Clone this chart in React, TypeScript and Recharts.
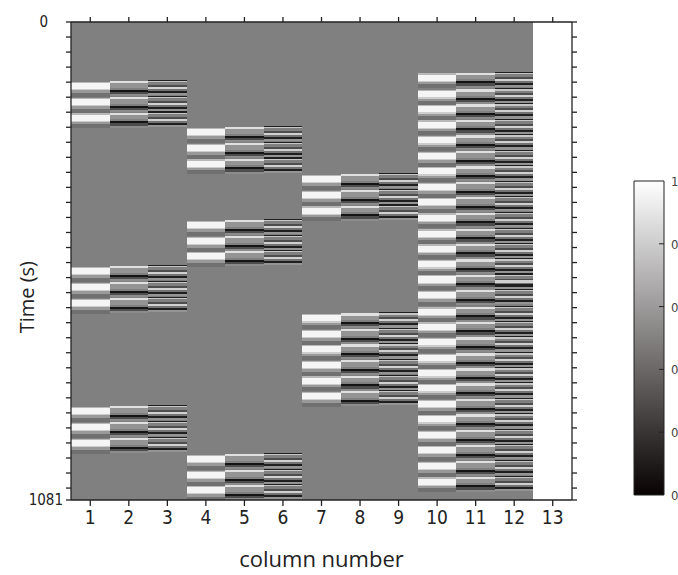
import React from 'react';
import { ComposedChart, BarChart, Bar, Scatter, XAxis, YAxis, ReferenceArea } from 'recharts';

const TOTAL_TIME = 1081;

const columnTicks = [1, 2, 3, 4, 5, 6, 7, 8, 9, 10, 11, 12, 13];
const timeTicks = [
  0, 34, 68, 102, 136, 170, 204, 238, 272, 306, 340, 374, 408, 442, 476, 510, 544,
  578, 612, 646, 680, 714, 748, 782, 816, 850, 884, 918, 952, 986, 1020, 1054, 1081,
];
const timeLabels = [0, 1081];
const colorbarTicks = [0, 0.2, 0.4, 0.6, 0.8, 1];
// the figure is cropped on the right, only the first glyph of each label shows
const colorbarLabels = ['0', '0', '0', '0', '0', '1'];

// peak (white band centre) times in seconds, one list per condition
const cond1Peaks = [144.7, 180.9, 216.4, 563.1, 599.3, 635.5, 879.7, 915.9, 952.1];
const cond2Peaks = [248.8, 284.9, 320.4, 459.1, 495.3, 529.2, 988.3, 1024.5, 1058.4];
const cond3Peaks = [355.1, 391.2, 426.7, 670.1, 705.6, 740.2, 775.7, 811.2, 845.8];
const cond4Peaks = [
  126.0, 163.5, 197.4, 232.3, 267.5, 303.0, 337.6, 373.1, 407.1, 442.6, 478.8, 512.7,
  548.0, 582.3, 617.4, 655.2, 689.1, 724.4, 760.5, 794.5, 828.4, 863.9, 898.5, 934.0,
  967.9, 1004.1, 1039.6,
];

// [from, to, level] offsets (s) around each peak, level 0 = black, 1 = white
const hrfProfile = [[-10, -7, 0.72], [-7, 7, 0.96], [7, 10, 0.8], [10, 15, 0.6], [15, 24, 0.44]];
const derivProfile = [[-11, -6, 0.88], [-6, 4, 0.58], [4, 8, 0.5], [8, 13, 0.08], [13, 18, 0.3], [18, 23, 0.55]];
const dispProfile = [
  [-14, -11, 0.12], [-11, -8, 0.78], [-8, -2, 0.5], [-2, 2, 0.3], [2, 7, 0.82],
  [7, 11, 0.45], [11, 16, 0.12], [16, 21, 0.58],
];
const baseLevel = 0.5;
const constantLevel = 1;

const gray = (l: number) => {
  const v = Math.round(l * 255);
  return `rgb(${v},${v},${v})`;
};

type Cell = { col: number; y1: number; y2: number; level: number };

const conditions = [cond1Peaks, cond2Peaks, cond3Peaks, cond4Peaks];
const profiles = [hrfProfile, derivProfile, dispProfile];

const cells: Cell[] = [];
conditions.forEach((peaks, ci) => {
  profiles.forEach((prof, pi) => {
    const col = ci * 3 + pi + 1;
    peaks.forEach((p) => {
      prof.forEach(([a, b, l]) => {
        const y1 = Math.max(0, p + a);
        const y2 = Math.min(TOTAL_TIME, p + b);
        if (y2 > y1) cells.push({ col, y1, y2, level: l });
      });
    });
  });
});

// anchor points so both axis pairs get a domain
const anchorPoints = columnTicks.map((c) => ({ col: c, t: 0 }));

const axisColor = '#222';
const tickFont = "'Liberation Sans Narrow', 'DejaVu Sans Condensed', sans-serif";
const labelFont = "'Open Sans', sans-serif";

const crispRect = (p: any) => (
  <rect x={p.x} y={p.y} width={p.width} height={p.height} fill={p.fill} shapeRendering="crispEdges" />
);
const noShape = () => <g />;

const TimeTick = (props: any) => {
  const { x, y, payload } = props;
  const v = payload.value;
  if (!timeLabels.includes(v)) return <g />;
  return (
    <text x={v === 0 ? x - 15 : x} y={y} dy={5} textAnchor="end" fontSize={15} fontFamily={tickFont} fill="#222">
      {String(v)}
    </text>
  );
};

const ColorbarTick = (props: any) => {
  const { x, y, payload, index } = props;
  const v = payload.value;
  const inner = v > 0 && v < 1;
  return (
    <g>
      {inner && <line x1={x - 5} x2={x} y1={y} y2={y} stroke={axisColor} strokeWidth={1} />}
      <text x={x + 7} y={y} dy={5} fontSize={13} fontFamily={tickFont} fill="#444">
        {colorbarLabels[index]}
      </text>
    </g>
  );
};

export default function App() {
  return (
    <div style={{ position: 'absolute', left: 0, top: 0, width: 678, height: 575, overflow: 'hidden', background: '#fff' }}>
      <ComposedChart
        width={678}
        height={575}
        data={anchorPoints}
        margin={{ top: 12, right: 96, bottom: 35, left: 31 }}
        style={{ position: 'absolute', left: 0, top: 0 }}
      >
        <XAxis
          xAxisId="bottom"
          dataKey="col"
          type="number"
          domain={[0.5, 13.5]}
          allowDataOverflow
          ticks={columnTicks}
          interval={0}
          height={40}
          stroke={axisColor}
          strokeWidth={1.3}
          tickSize={6}
          tickMargin={5}
          tick={{ fontSize: 19, fontFamily: tickFont, fill: '#222' }}
          label={{ value: 'column number', position: 'bottom', offset: 11, fontSize: 22, fontFamily: labelFont, fill: '#222' }}
        />
        <XAxis
          xAxisId="top"
          dataKey="col"
          orientation="top"
          type="number"
          domain={[0.5, 13.5]}
          allowDataOverflow
          ticks={columnTicks}
          interval={0}
          height={10}
          stroke={axisColor}
          strokeWidth={1.3}
          tickSize={5}
          tickFormatter={() => ''}
        />
        <YAxis
          yAxisId="left"
          dataKey="t"
          type="number"
          domain={[0, TOTAL_TIME]}
          allowDataOverflow
          reversed
          ticks={timeTicks}
          interval={0}
          width={40}
          stroke={axisColor}
          strokeWidth={1.3}
          tickSize={5}
          tickMargin={3}
          tick={<TimeTick />}
          label={{ value: 'Time (s)', angle: -90, position: 'left', offset: 4, fontSize: 20, fontFamily: labelFont, fill: '#222' }}
        />
        <YAxis
          yAxisId="right"
          dataKey="t"
          orientation="right"
          type="number"
          domain={[0, TOTAL_TIME]}
          allowDataOverflow
          reversed
          ticks={timeTicks}
          interval={0}
          width={10}
          stroke={axisColor}
          strokeWidth={1.3}
          tickSize={5}
          tickFormatter={() => ''}
        />
        <Scatter xAxisId="bottom" yAxisId="left" dataKey="t" shape={noShape} isAnimationActive={false} />
        <Scatter xAxisId="top" yAxisId="right" dataKey="t" shape={noShape} isAnimationActive={false} />
        <ReferenceArea
          xAxisId="bottom"
          yAxisId="left"
          x1={0.5}
          x2={12.5}
          y1={0}
          y2={TOTAL_TIME}
          fill={gray(baseLevel)}
          fillOpacity={1}
          shape={crispRect}
        />
        <ReferenceArea
          xAxisId="bottom"
          yAxisId="left"
          x1={12.5}
          x2={13.5}
          y1={0}
          y2={TOTAL_TIME}
          fill={gray(constantLevel)}
          fillOpacity={1}
          shape={crispRect}
        />
        {cells.map((c, i) => (
          <ReferenceArea
            key={i}
            xAxisId="bottom"
            yAxisId="left"
            x1={c.col - 0.5}
            x2={c.col + 0.5}
            y1={c.y1}
            y2={c.y2}
            fill={gray(c.level)}
            fillOpacity={1}
            shape={crispRect}
          />
        ))}
      </ComposedChart>

      <BarChart
        width={78}
        height={360}
        data={[{ name: 'scale', v: 1 }]}
        margin={{ top: 21, right: 0, bottom: 25, left: 34 }}
        barCategoryGap={0}
        style={{ position: 'absolute', left: 600, top: 160 }}
      >
        <defs>
          <linearGradient id="grayRamp" x1="0" y1="0" x2="0" y2="1">
            <stop offset="0%" stopColor="#ffffff" />
            <stop offset="100%" stopColor="#080202" />
          </linearGradient>
        </defs>
        <XAxis dataKey="name" hide />
        <YAxis
          orientation="right"
          type="number"
          domain={[0, 1]}
          ticks={colorbarTicks}
          interval={0}
          width={14}
          axisLine={false}
          tickLine={false}
          tickSize={0}
          tickMargin={0}
          tick={<ColorbarTick />}
        />
        <Bar dataKey="v" fill="url(#grayRamp)" stroke={axisColor} strokeWidth={1} isAnimationActive={false} />
      </BarChart>
    </div>
  );
}
